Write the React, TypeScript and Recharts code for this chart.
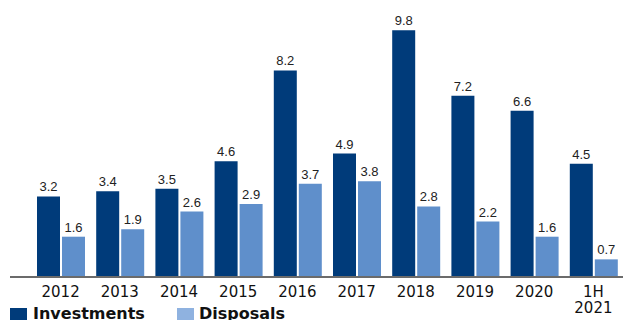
import { Bar, BarChart, LabelList, XAxis, YAxis } from "recharts";

const periods = ["2012", "2013", "2014", "2015", "2016", "2017", "2018", "2019", "2020", "1H 2021"];
const investments = [3.2, 3.4, 3.5, 4.6, 8.2, 4.9, 9.8, 7.2, 6.6, 4.5];
const disposals = [1.6, 1.9, 2.6, 2.9, 3.7, 3.8, 2.8, 2.2, 1.6, 0.7];

const DARK = "#003b7a";
const LIGHT = "#5f8fcb";
const LIGHT_KEY = "#8fb2e0";

const data = periods.map((period, i) => ({
  period,
  investments: investments[i],
  disposals: disposals[i],
}));

// splits "1H 2021" onto two lines like the original
function PeriodTick({ x, y, payload }: any) {
  const lines = String(payload.value).split(" ");
  return (
    <text
      x={x}
      y={y}
      textAnchor="middle"
      fill="#111"
      fontFamily="DejaVu Sans, Verdana, sans-serif"
      fontSize={15}
    >
      {lines.map((line, i) => (
        <tspan key={line} x={x} y={y + 20 + i * 16}>
          {line}
        </tspan>
      ))}
    </text>
  );
}

const labelStyle = {
  fill: "#222",
  fontSize: 13,
  fontFamily: "Liberation Sans, Arial, sans-serif",
};

export default function App() {
  return (
    <div
      style={{
        position: "fixed",
        left: 0,
        top: 0,
        width: 623,
        height: 320,
        overflow: "hidden",
        background: "#fff",
      }}
    >
      <BarChart
        width={623}
        height={320}
        data={data}
        margin={{ top: 10, right: 0, bottom: 0, left: 10 }}
        barCategoryGap={5}
        barGap={2}
      >
        <XAxis
          dataKey="period"
          height={43}
          tickLine={false}
          tickSize={0}
          tickMargin={0}
          interval={0}
          padding={{ left: 21, right: 0 }}
          axisLine={{ stroke: "#6b6b6b", strokeWidth: 2 }}
          tick={<PeriodTick />}
        />
        <YAxis hide domain={[0, 10.6]} />
        <Bar dataKey="investments" fill={DARK} barSize={23} isAnimationActive={false}>
          <LabelList dataKey="investments" position="top" offset={5} style={labelStyle} />
        </Bar>
        <Bar dataKey="disposals" fill={LIGHT} barSize={23} isAnimationActive={false}>
          <LabelList dataKey="disposals" position="top" offset={5} style={labelStyle} />
        </Bar>
      </BarChart>
      <div
        style={{
          position: "absolute",
          left: 10,
          top: 306,
          display: "flex",
          alignItems: "flex-start",
          fontFamily: "DejaVu Sans, Verdana, sans-serif",
          fontWeight: "bold",
          fontSize: 16,
          lineHeight: "16px",
          color: "#111",
        }}
      >
        <span style={{ width: 17, height: 16, marginTop: 2, background: DARK }} />
        <span style={{ marginLeft: 6, marginRight: 32 }}>Investments</span>
        <span style={{ width: 17, height: 16, marginTop: 2, background: LIGHT_KEY }} />
        <span style={{ marginLeft: 5 }}>Disposals</span>
      </div>
    </div>
  );
}
